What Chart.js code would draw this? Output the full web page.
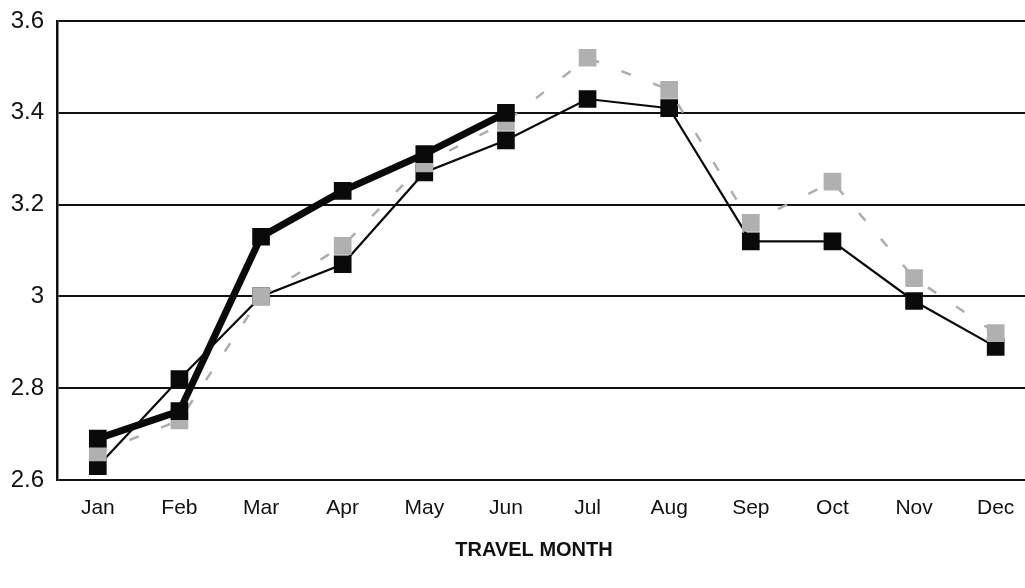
<!DOCTYPE html>
<html>
<head>
<meta charset="utf-8">
<script src="https://cdn.jsdelivr.net/npm/chart.js@4"></script>
<style>
  html, body { margin: 0; padding: 0; background: #fff; overflow: hidden; }
  .wrap { width: 1049px; height: 588px; }
</style>
</head>
<body>
<div class="wrap">
  <canvas id="travelChart" width="1049" height="588"></canvas>
</div>

<script>
  const months = ['Jan', 'Feb', 'Mar', 'Apr', 'May', 'Jun', 'Jul', 'Aug', 'Sep', 'Oct', 'Nov', 'Dec'];

  // thick black line, only runs to June
  const thickSeries = [2.69, 2.75, 3.13, 3.23, 3.31, 3.40, null, null, null, null, null, null];
  // gray dashed line
  const graySeries = [2.66, 2.73, 3.00, 3.11, 3.29, 3.38, 3.52, 3.45, 3.16, 3.25, 3.04, 2.92];
  // thin black line
  const thinSeries = [2.63, 2.82, 3.00, 3.07, 3.27, 3.34, 3.43, 3.41, 3.12, 3.12, 2.99, 2.89];

  const yTicks = [2.6, 2.8, 3.0, 3.2, 3.4, 3.6];
  const xTitle = 'TRAVEL MONTH';

  function initTravelChart() {
    const ctx = document.getElementById('travelChart').getContext('2d');

    new Chart(ctx, {
      type: 'line',
      data: {
        labels: months,
        datasets: [
          {
            label: 'thick',
            data: thickSeries,
            borderColor: '#0a0a0a',
            backgroundColor: '#0a0a0a',
            borderWidth: 7,
            pointStyle: 'rect',
            pointRadius: 12.5,
            pointBorderWidth: 0,
            spanGaps: false
          },
          {
            label: 'gray',
            data: graySeries,
            borderColor: '#adadad',
            backgroundColor: '#b0b0b0',
            borderWidth: 2.5,
            borderDash: [10, 24],
            pointStyle: 'rect',
            pointRadius: 12.5,
            pointBorderWidth: 0
          },
          {
            label: 'thin',
            data: thinSeries,
            borderColor: '#0a0a0a',
            backgroundColor: '#0a0a0a',
            borderWidth: 2.2,
            pointStyle: 'rect',
            pointRadius: 12.5,
            pointBorderWidth: 0
          }
        ]
      },
      options: {
        responsive: false,
        animation: false,
        layout: { padding: { top: 21, right: 0, left: 0, bottom: 0 } },
        plugins: {
          legend: { display: false },
          tooltip: { enabled: false }
        },
        scales: {
          x: {
            offset: true,
            grid: { display: false, drawTicks: false },
            border: { display: false },
            ticks: {
              padding: 16,
              color: '#111',
              font: { family: 'Liberation Sans, Arial, sans-serif', size: 21 }
            },
            afterFit(scale) { scale.height = 108; }
          },
          y: {
            min: 2.6,
            max: 3.6,
            afterBuildTicks(scale) { scale.ticks = yTicks.map(v => ({ value: v })); },
            grid: { color: '#111', lineWidth: 2, drawTicks: false },
            border: { display: true, color: '#111', width: 2.5 },
            ticks: {
              padding: 13,
              color: '#111',
              font: { family: 'Liberation Sans, Arial, sans-serif', size: 24 },
              callback: v => String(Math.round(v * 10) / 10)
            },
            afterFit(scale) {
              scale.width = 57;
              scale.paddingTop = 0;
              scale.paddingBottom = 0;
            }
          }
        }
      },
      plugins: [{
        // axis title sits a little left of the plot centre in the original
        afterDraw(chart) {
          const c = chart.ctx;
          c.save();
          c.font = 'bold 20px Liberation Sans, Arial, sans-serif';
          c.fillStyle = '#111';
          c.textAlign = 'center';
          c.textBaseline = 'middle';
          c.fillText(xTitle, 534, 550);
          c.restore();
        }
      }]
    });
  }

  requestAnimationFrame(initTravelChart);
</script>
</body>
</html>
